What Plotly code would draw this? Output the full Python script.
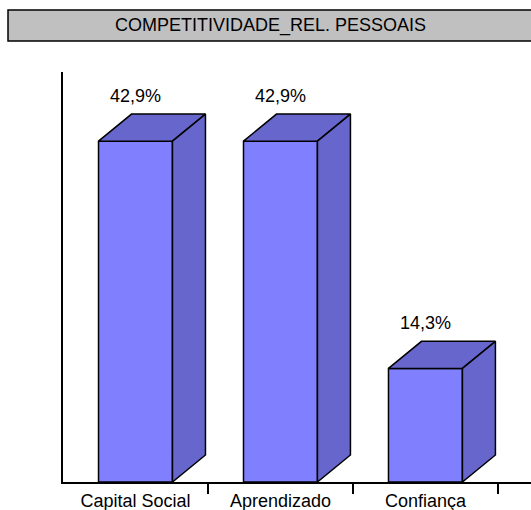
import plotly.graph_objects as go

categories = ["Capital Social", "Aprendizado", "Confiança"]
values = [42.9, 42.9, 14.3]
value_labels = ["42,9%", "42,9%", "14,3%"]
title_text = "COMPETITIVIDADE_REL. PESSOAIS"

FRONT = "#8080FF"
SIDE = "#6666CC"
FONT = "Liberation Sans, Arial, sans-serif"

half_w = 0.255   # half width of the front face (category units)
dx = 0.2276      # depth offset in x (category units)
dy = 3.4         # depth offset in y (value units)

fig = go.Figure()

for i, v in enumerate(values):
    x0, x1 = i - half_w, i + half_w
    # front face
    fig.add_trace(go.Scatter(x=[x0, x1, x1, x0, x0], y=[0, 0, v, v, 0],
                             fill="toself", fillcolor=FRONT, mode="lines",
                             line=dict(color="black", width=1.5),
                             hoverinfo="skip", showlegend=False))
    # top face
    fig.add_trace(go.Scatter(x=[x0, x1, x1 + dx, x0 + dx, x0], y=[v, v, v + dy, v + dy, v],
                             fill="toself", fillcolor=SIDE, mode="lines",
                             line=dict(color="black", width=1.5),
                             hoverinfo="skip", showlegend=False))
    # side face
    fig.add_trace(go.Scatter(x=[x1, x1 + dx, x1 + dx, x1, x1], y=[0, dy, v + dy, v, 0],
                             fill="toself", fillcolor=SIDE, mode="lines",
                             line=dict(color="black", width=1.5),
                             hoverinfo="skip", showlegend=False))
    fig.add_annotation(x=i, y=v + dy, text=value_labels[i], showarrow=False,
                       xanchor="center", yanchor="bottom", yshift=6,
                       font=dict(family=FONT, size=18, color="black"))

# invisible trace for the boundary-tick axis
fig.add_trace(go.Scatter(x=[0], y=[0], xaxis="x2", mode="markers",
                         marker=dict(opacity=0), hoverinfo="skip", showlegend=False))

xr = [-0.5, 2.728]
fig.update_layout(
    width=531, height=510,
    margin=dict(l=63, r=0, t=72, b=28),
    paper_bgcolor="white", plot_bgcolor="white",
    xaxis=dict(range=xr, tickmode="array", tickvals=list(range(len(categories))),
               ticktext=categories, ticks="outside", ticklen=2,
               tickcolor="rgba(0,0,0,0)", automargin=False,
               showgrid=False, zeroline=False,
               showline=True, linecolor="black", linewidth=1.5,
               tickfont=dict(family=FONT, size=18, color="black")),
    xaxis2=dict(range=xr, overlaying="x", anchor="y", side="bottom", automargin=False,
                tickmode="array", tickvals=[0.5, 1.5, 2.5], ticks="outside",
                ticklen=11, tickwidth=1.5, tickcolor="black",
                showticklabels=False, showgrid=False, zeroline=False, showline=False),
    yaxis=dict(range=[0, 51.6], showticklabels=False, ticks="", showgrid=False,
               automargin=False,
               zeroline=False, showline=True, linecolor="black", linewidth=1.5),
)

# title box
fig.add_shape(type="rect", xref="paper", yref="paper",
              x0=-0.1175, x1=1.05, y0=1.0756, y1=1.1512,
              fillcolor="#C0C0C0", line=dict(color="black", width=1.5), layer="above")
fig.add_annotation(xref="paper", yref="paper", x=0.443, y=1.1134, text=title_text,
                   showarrow=False, xanchor="center", yanchor="middle",
                   font=dict(family=FONT, size=18, color="black"))

fig.write_html("out.html")
